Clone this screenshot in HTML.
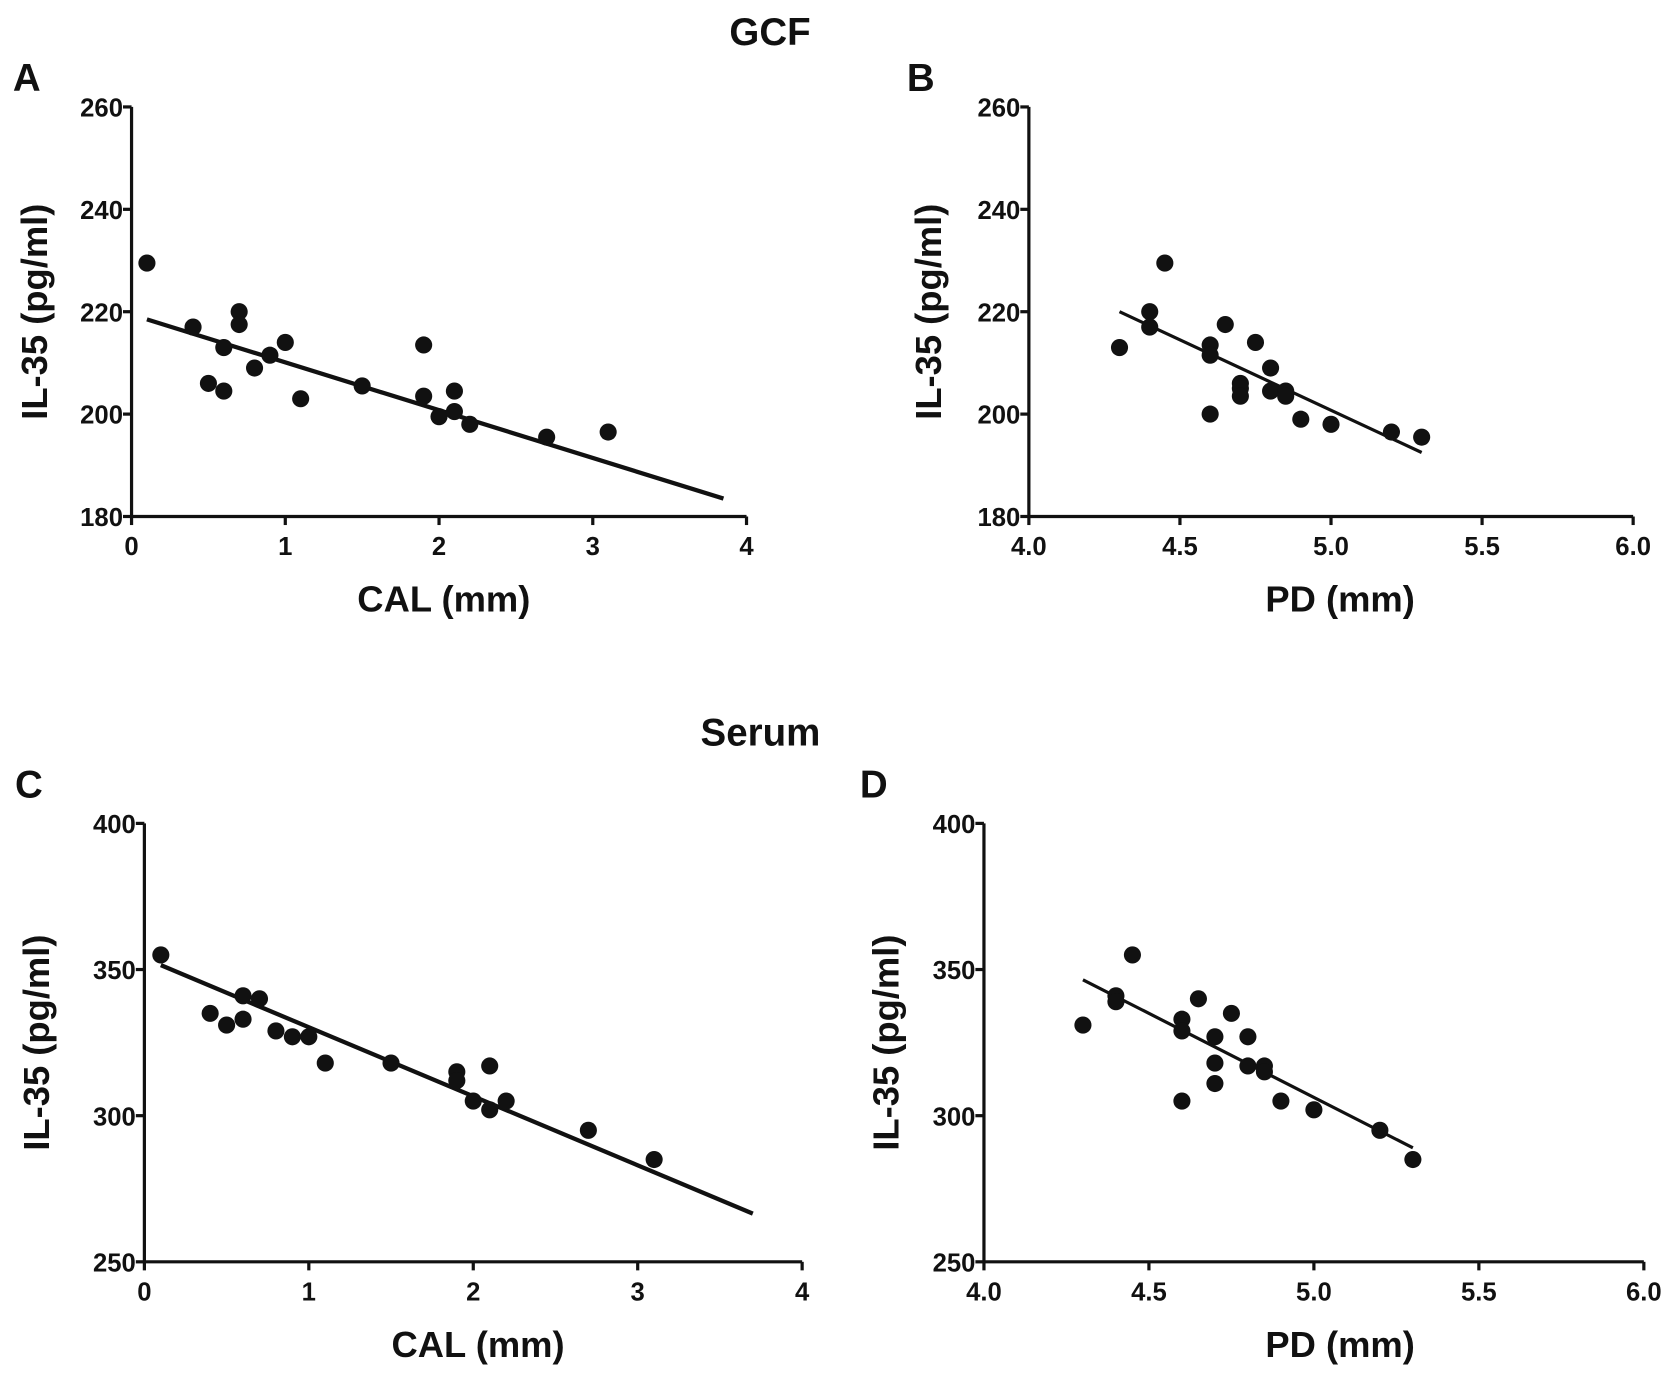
<!DOCTYPE html>
<html><head><meta charset="utf-8"><style>
html,body{margin:0;padding:0;background:#fff}
svg{display:block}
text{font-family:"Liberation Sans",Arial,sans-serif;font-weight:bold;fill:#111}
</style></head><body>
<svg id="fig" width="1677" height="1388" viewBox="0 0 1568 1298" preserveAspectRatio="none" xmlns="http://www.w3.org/2000/svg">
<text x="720" y="42" font-size="36" text-anchor="middle">GCF</text>
<text x="711" y="697" font-size="36" text-anchor="middle">Serum</text>
</svg>
<script>
const aX=[0.1,0.4,0.5,0.6,0.6,0.7,0.7,0.8,0.9,1.0,1.1,1.5,1.9,1.9,2.0,2.1,2.1,2.2,2.7,3.1];
const aY=[229.5,217,206,213,204.5,220,217.5,209,211.5,214,203,205.5,213.5,203.5,199.5,204.5,200.5,198,195.5,196.5];
const aFit=[[0.1,218.5],[3.85,183.5]];
const bX=[4.3,4.4,4.4,4.45,4.6,4.6,4.6,4.65,4.7,4.7,4.7,4.75,4.8,4.8,4.85,4.85,4.9,5.0,5.2,5.3];
const bY=[213,220,217,229.5,213.5,211.5,200,217.5,206,205,203.5,214,209,204.5,204.5,203.5,199,198,196.5,195.5];
const bFit=[[4.3,220],[5.3,192.5]];
const cX=[0.1,0.4,0.5,0.6,0.6,0.7,0.8,0.9,1.0,1.1,1.5,1.9,1.9,2.0,2.1,2.1,2.2,2.7,3.1];
const cY=[355,335,331,341,333,340,329,327,327,318,318,315,312,305,317,302,305,295,285];
const cFit=[[0.1,351.5],[3.7,266.5]];
const dX=[4.3,4.4,4.4,4.45,4.6,4.6,4.6,4.65,4.7,4.7,4.7,4.75,4.8,4.8,4.85,4.85,4.9,5.0,5.2,5.3];
const dY=[331,341,339,355,333,329,305,340,327,318,311,335,327,317,317,315,305,302,295,285];
const dFit=[[4.3,346.5],[5.3,289]];
const calTicks=[0,1,2,3,4];
const pdTicks=[4.0,4.5,5.0,5.5,6.0];
const gcfTicks=[180,200,220,240,260];
const serumTicks=[250,300,350,400];

const NS="http://www.w3.org/2000/svg";
const svg=document.getElementById('fig');
function mk(tag,attrs,parent){const e=document.createElementNS(NS,tag);for(const k in attrs)e.setAttribute(k,attrs[k]);(parent||svg).appendChild(e);return e;}

function panel(cfg){
  const g=mk('g',{});
  
  
  const sx=v=>cfg.x0+(v-cfg.xmin)/(cfg.xmax-cfg.xmin)*(cfg.x1-cfg.x0);
  const sy=v=>cfg.y0-(v-cfg.ymin)/(cfg.ymax-cfg.ymin)*(cfg.y0-cfg.y1);
  const lbl=mk('text',{x:cfg.lx,y:cfg.ly,'font-size':36},g);lbl.textContent=cfg.id.toUpperCase();
  
  
  const ya=mk('line',{x1:cfg.x0,y1:cfg.y0,x2:cfg.x0,y2:cfg.y1,stroke:'#111','stroke-width':3},g);
  
  
  const xa=mk('line',{x1:cfg.x0,y1:cfg.y0,x2:cfg.x1,y2:cfg.y0,stroke:'#111','stroke-width':3},g);
  
  
  cfg.xt.forEach(v=>{
    mk('line',{x1:sx(v),y1:cfg.y0,x2:sx(v),y2:cfg.y0+8,stroke:'#111','stroke-width':3},g);
    const t=mk('text',{x:sx(v),y:cfg.y0+36,'font-size':24,'text-anchor':'middle'},g);
    t.textContent=cfg.xfmt(v);
    
    
  });
  cfg.yt.forEach(v=>{
    mk('line',{x1:cfg.x0-8,y1:sy(v),x2:cfg.x0,y2:sy(v),stroke:'#111','stroke-width':3},g);
    const t=mk('text',{x:cfg.x0-8,y:sy(v)+9,'font-size':24,'text-anchor':'end'},g);
    t.textContent=v;
    
    
  });
  const xt=mk('text',{x:cfg.xtx,y:cfg.y0+89,'font-size':34,'text-anchor':'middle'},g);
  xt.textContent=cfg.xtitle;
  
  
  const cy=(cfg.y0+cfg.y1)/2;
  const yt=mk('text',{x:cfg.ytx,y:cy,'font-size':34,'text-anchor':'middle',transform:`rotate(-90 ${cfg.ytx} ${cy})`},g);
  yt.textContent='IL-35 (pg/ml)';
  
  
  const fl=mk('line',{x1:sx(cfg.fit[0][0]),y1:sy(cfg.fit[0][1]),x2:sx(cfg.fit[1][0]),y2:sy(cfg.fit[1][1]),stroke:'#111','stroke-width':cfg.lw},g);
  
  
  cfg.xs.forEach((v,i)=>{
    const c=mk('circle',{cx:sx(v),cy:sy(cfg.ys[i]),r:8,fill:'#111'},g);
    
    
  });
}
const fmt0=v=>String(v), fmt1=v=>v.toFixed(1);
panel({id:'a',x0:123,x1:698,y0:483,y1:100,xmin:0,xmax:4,ymin:180,ymax:260,xt:calTicks,yt:gcfTicks,xfmt:fmt0,xs:aX,ys:aY,fit:aFit,lx:12,ly:85,xtx:415,ytx:44,xtitle:'CAL (mm)',lw:4});
panel({id:'b',x0:962,x1:1527,y0:483,y1:100,xmin:4,xmax:6,ymin:180,ymax:260,xt:pdTicks,yt:gcfTicks,xfmt:fmt1,xs:bX,ys:bY,fit:bFit,lx:848,ly:85,xtx:1253,ytx:880,xtitle:'PD (mm)',lw:3});
panel({id:'c',x0:135,x1:750,y0:1180,y1:770,xmin:0,xmax:4,ymin:250,ymax:400,xt:calTicks,yt:serumTicks,xfmt:fmt0,xs:cX,ys:cY,fit:cFit,lx:14,ly:746,xtx:447,ytx:46,xtitle:'CAL (mm)',lw:4});
panel({id:'d',x0:920,x1:1537,y0:1180,y1:770,xmin:4,xmax:6,ymin:250,ymax:400,xt:pdTicks,yt:serumTicks,xfmt:fmt1,xs:dX,ys:dY,fit:dFit,lx:804,ly:746,xtx:1253,ytx:840,xtitle:'PD (mm)',lw:3});
</script>
</body></html>
